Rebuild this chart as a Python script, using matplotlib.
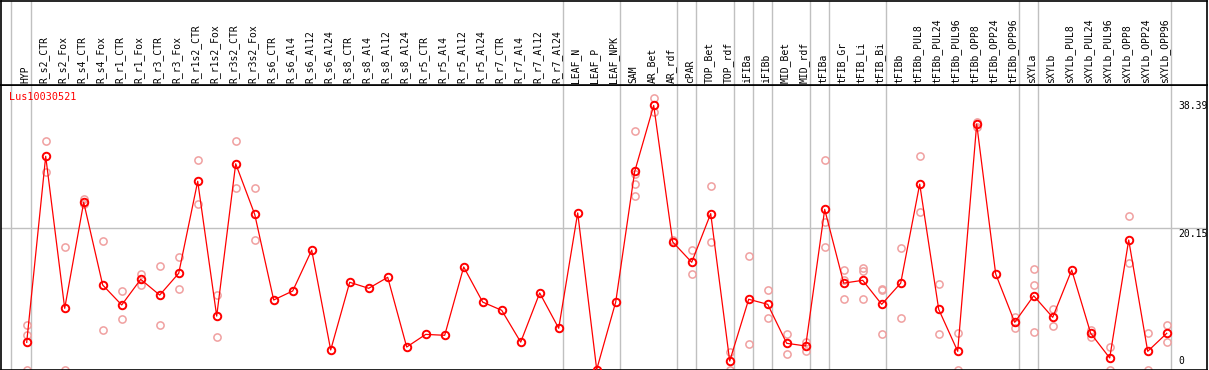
import matplotlib
matplotlib.use("Agg")
import matplotlib.pyplot as plt
from matplotlib import transforms

gene = "Lus10030521"
samples = ["HYP", "R_s2_CTR", "R_s2_Fox", "R_s4_CTR", "R_s4_Fox", "R_r1_CTR", "R_r1_Fox",
           "R_r3_CTR", "R_r3_Fox", "R_r1s2_CTR", "R_r1s2_Fox", "R_r3s2_CTR", "R_r3s2_Fox",
           "R_s6_CTR", "R_s6_Al4", "R_s6_Al12", "R_s6_Al24", "R_s8_CTR", "R_s8_Al4",
           "R_s8_Al12", "R_s8_Al24", "R_r5_CTR", "R_r5_Al4", "R_r5_Al12", "R_r5_Al24",
           "R_r7_CTR", "R_r7_Al4", "R_r7_Al12", "R_r7_Al24", "LEAF_N", "LEAF_P", "LEAF_NPK",
           "SAM", "AR_Bet", "AR_rdf", "cPAR", "TOP_Bet", "TOP_rdf", "iFIBa", "iFIBb",
           "MID_Bet", "MID_rdf", "tFIBa", "tFIB_Gr", "tFIB_Li", "tFIB_Bi", "tFIBb",
           "tFIBb_PUL8", "tFIBb_PUL24", "tFIBb_PUL96", "tFIBb_OPP8", "tFIBb_OPP24",
           "tFIBb_OPP96", "sXYLa", "sXYLb", "sXYLb_PUL8", "sXYLb_PUL24", "sXYLb_PUL96",
           "sXYLb_OPP8", "sXYLb_OPP24", "sXYLb_OPP96"]

means = [3.87, 30.36, 8.71, 23.8, 12.03, 9.19, 12.84, 10.6, 13.7, 26.8, 7.6, 29.3, 22.1,
         9.9, 11.18, 17.0, 2.78, 12.42, 11.56, 13.13, 3.2, 5.0, 4.87, 14.6, 9.6, 8.43, 3.9,
         10.9, 5.87, 22.3, 0.0, 9.6, 28.2, 37.6, 18.16, 15.27, 22.2, 1.2, 10.0, 9.28, 3.73,
         3.35, 22.8, 12.3, 12.7, 9.28, 12.3, 26.4, 8.57, 2.59, 34.96, 13.6, 6.72, 10.5,
         7.43, 14.17, 5.15, 1.64, 18.44, 2.59, 5.15]

replicates = [[6.34, 4.9, 0.0], [32.6, 28.1], [17.4, 0.0], [24.3, 23.6], [18.3, 5.6],
              [11.2, 7.2], [13.6, 12.1], [14.8, 6.3], [16.0, 11.4], [29.9, 23.5],
              [10.6, 4.6], [32.6, 25.8], [25.8, 18.4],
              [], [], [], [], [], [], [], [], [], [], [], [], [], [], [], [], [], [], [],
              [33.96, 27.8, 26.4, 24.7], [38.7, 36.6], [18.4], [17.0, 13.56], [26.2, 18.1],
              [2.45, 0.0], [16.1, 3.7], [11.3, 7.3], [5.1, 2.25], [3.9, 2.7],
              [29.8, 21.05, 17.5], [14.1, 12.8, 10.0], [14.45, 14.0, 10.0],
              [11.46, 11.3, 5.0], [17.26, 7.33], [30.4, 22.4], [12.2, 5.0], [5.15, 0.0],
              [35.2, 34.6], [], [7.5, 5.86], [14.27, 12.03, 5.4], [8.6, 6.24], [],
              [5.6, 4.6], [3.2, 0.0], [21.9, 15.1], [5.15, 0.0], [6.34, 3.87]]

# last sample index of each group (vertical separators)
group_ends = [0, 28, 31, 34, 35, 37, 38, 39, 41, 42, 45, 52, 53, 60]
ref_ticks = [38.39, 20.15, 0]

W, H = 1209, 370
fig = plt.figure(figsize=(W / 100, H / 100), dpi=100)

px_left, px_right = 1, 1207
x0_px, step_px = 26.7, 19.0
xlim = ((px_left - x0_px) / step_px, (px_right - x0_px) / step_px)

top_px, bot_px = 85, 369.5
ax = fig.add_axes([px_left / W, (H - bot_px) / H, (px_right - px_left) / W, (bot_px - top_px) / H])
ax_h = fig.add_axes([px_left / W, (H - top_px) / H, (px_right - px_left) / W, (top_px - 0.5) / H])

scale = (bot_px - 228) / 20.15
ax.set_xlim(*xlim)
ax.set_ylim(0, (bot_px - top_px) / scale)
ax_h.set_xlim(*xlim)
ax_h.set_ylim(0, 1)

for a in (ax, ax_h):
    a.set_xticks([])
    a.set_yticks([])
    for s in a.spines.values():
        s.set_color("black")
        s.set_linewidth(1.2)

grey = "#c0c0c0"
sep_x = [-0.842] + [e + 0.21 for e in group_ends]
for x in sep_x:
    ax.axvline(x, color=grey, lw=1.0, zorder=0)
    ax_h.axvline(x, color=grey, lw=1.0, zorder=0)
ax.axhline(ref_ticks[1], color=grey, lw=1.0, zorder=0)

xs = list(range(len(samples)))
for i, reps in enumerate(replicates):
    if reps:
        ax.plot([i] * len(reps), reps, linestyle="none", marker="o", ms=5.2,
                mfc="none", mec="#f0a0a0", mew=1.1, clip_on=True, zorder=2)
ax.plot(xs, means, color="red", lw=0.9, marker="o", ms=5.4, mfc="none", mec="red",
        mew=1.4, zorder=3)

mono = "DejaVu Sans Mono"
tr_h = transforms.blended_transform_factory(ax_h.transData, ax_h.transAxes)
for i, name in enumerate(samples):
    ax_h.text(i - 0.09, 0.025, name, rotation=90, ha="center", va="bottom",
              fontsize=7, family=mono, color="black", transform=tr_h)

fig.text(9 / W, 1 - 97.3 / H, gene, color="red", fontsize=7.3, family=mono,
         ha="left", va="center")

tr_y = transforms.blended_transform_factory(fig.transFigure, ax.transData)
for v in ref_ticks:
    lab = f"{v:g}" if v == 0 else f"{v:.2f}"
    if v == 0:
        off = transforms.ScaledTranslation(0, 3 / 100, fig.dpi_scale_trans)
        ax.text(1178.5 / W, v, lab, fontsize=7, family=mono, ha="left", va="bottom",
                transform=tr_y + off, clip_on=False)
    else:
        off = transforms.ScaledTranslation(0, -1 / 100, fig.dpi_scale_trans)
        ax.text(1178.5 / W, v, lab, fontsize=7, family=mono, ha="left", va="top",
                transform=tr_y + off, clip_on=False)

fig.savefig("out.png", dpi=100)
